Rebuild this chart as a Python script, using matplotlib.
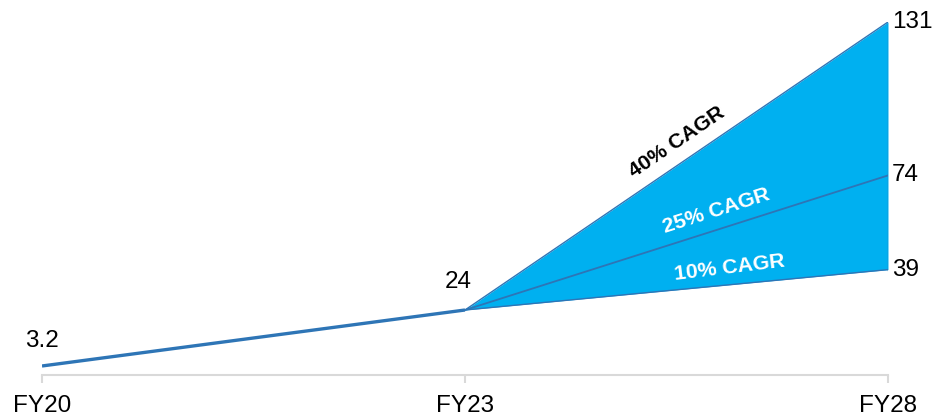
import matplotlib
matplotlib.use("Agg")
import matplotlib.pyplot as plt
import numpy as np

plt.rcParams['font.family'] = ['Liberation Sans', 'DejaVu Sans']

categories = ["FY20", "FY23", "FY28"]
history = [3.2, 24]
base_value = 24
scenario_end = {"10%": 39, "25%": 74, "40%": 131}
scenario_labels = ["10% CAGR", "25% CAGR", "40% CAGR"]

W, H = 932, 416
fig = plt.figure(figsize=(W / 100, H / 100), dpi=100)
ax = fig.add_axes([42 / W, (416 - 374.6) / H, (888 - 42) / W, (374.6 - 22) / H])
ax.set_xlim(0, 2)
ax.set_ylim(0, 131)

line_c = "#2E75B6"
fill_c = "#00B0F0"
FS = 17.5

x = np.arange(len(categories))
ax.plot(x[:2], history, color=line_c, lw=2.4, solid_capstyle="butt", zorder=3)

lo, mid, hi = scenario_end["10%"], scenario_end["25%"], scenario_end["40%"]
ax.fill_between(x[1:], [base_value, lo], [base_value, hi], color=fill_c, lw=0, zorder=1)
ax.plot(x[1:], [base_value, lo], color=line_c, lw=1.0, zorder=2)
ax.plot(x[1:], [base_value, hi], color=line_c, lw=1.0, zorder=2)
ax.plot(x[1:], [base_value, mid], color=line_c, lw=1.3, zorder=2)
ax.plot([x[2], x[2]], [lo, hi], color=line_c, lw=1.0, zorder=2)

for s in ["top", "right", "left"]:
    ax.spines[s].set_visible(False)
ax.spines["bottom"].set_color("#D9D9D9")
ax.spines["bottom"].set_linewidth(1.5)
ax.set_yticks([])
ax.set_xticks(x)
ax.set_xticklabels(categories, fontsize=FS)
ax.tick_params(axis="x", length=6, width=1.5, color="#D9D9D9", pad=9, direction="out")

# value labels
ax.annotate("3.2", (x[0], history[0]), xytext=(0, 18), textcoords="offset points",
            ha="center", va="center", fontsize=FS)
ax.annotate("24", (x[1], history[1]), xytext=(-5, 20), textcoords="offset points",
            ha="center", va="center", fontsize=FS)
for v in [hi, mid, lo]:
    ax.annotate(str(v), (x[2], v), xytext=(3, 0), textcoords="offset points",
                ha="left", va="center", fontsize=FS)

fig.canvas.draw()

def angle(y0, y1):
    p0 = ax.transData.transform((x[1], y0))
    p1 = ax.transData.transform((x[2], y1))
    return np.degrees(np.arctan2(p1[1] - p0[1], p1[0] - p0[0]))

# CAGR labels placed along each edge
specs = [
    (scenario_labels[2], hi, 0.527, 14, "black", 0.0),
    (scenario_labels[1], mid, 0.607, 13, "white", 0.0),
    (scenario_labels[0], lo, 0.63, 12, "white", 1.5),
]
for txt, end, frac, off, col, extra in specs:
    xp = x[1] + frac
    yp = base_value + (end - base_value) * frac
    ang = angle(base_value, end) + extra
    dx = -np.sin(np.radians(ang)) * off
    dy = np.cos(np.radians(ang)) * off
    ax.annotate(txt, (xp, yp), xytext=(dx, dy), textcoords="offset points",
                ha="center", va="center", rotation=ang, rotation_mode="anchor",
                fontsize=15.3, fontweight="bold", color=col, zorder=5)

fig.savefig("out.png", dpi=100)
